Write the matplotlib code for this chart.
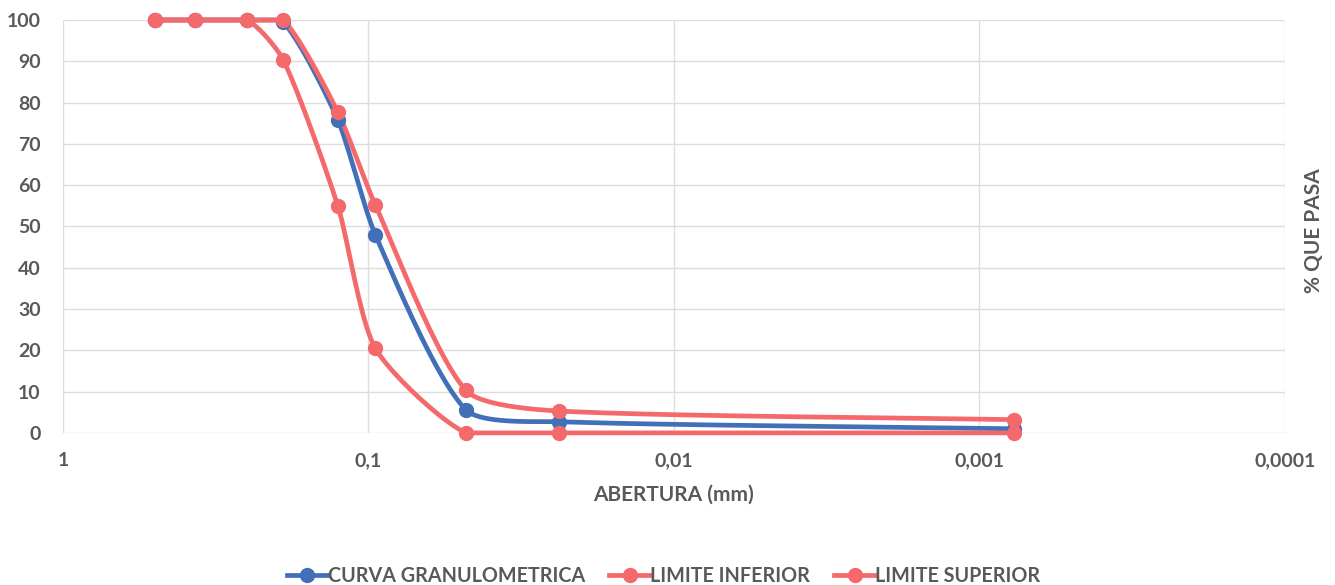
import numpy as np
import matplotlib
matplotlib.use("Agg")
import matplotlib.pyplot as plt
from matplotlib.ticker import FixedLocator, FixedFormatter, NullLocator

# abertura (mm) de cada tamiz
abertura = [0.5, 0.37, 0.25, 0.19, 0.126, 0.095, 0.048, 0.0238, 0.00077]
curva = [100, 100, 100, 99.5, 75.8, 48, 5.6, 2.7, 1.0]
lim_inferior = [100, 100, 100, 90.3, 55, 20.5, 0, 0, 0]
lim_superior = [100, 100, 100, 100, 77.7, 55.2, 10.3, 5.3, 3.2]

x_ticks = [1, 0.1, 0.01, 0.001, 0.0001]
x_labels = ["1", "0,1", "0,01", "0,001", "0,0001"]
y_ticks = list(range(0, 101, 10))

BLUE = "#4170B8"
RED = "#F4696C"
GREY = "#595959"
FONT = "Lato"

# escala aprox. en pixeles (decada en x, unidad en y) para el suavizado
SX, SY = 306.0, 4.13


def smooth(xs, ys, n=40, k=0.22):
    # bezier tipo Excel, tangentes limitadas por la longitud del tramo
    P = np.column_stack([np.log10(xs) * SX, np.asarray(ys, float) * SY])
    m = len(P)
    tang = []
    for i in range(m):
        a = P[max(i - 1, 0)]
        b = P[min(i + 1, m - 1)]
        d = b - a
        tang.append(d / (np.hypot(*d) or 1.0))
    t = np.linspace(0, 1, n)[:, None]
    out = []
    for i in range(m - 1):
        p0, p3 = P[i], P[i + 1]
        L = np.hypot(*(p3 - p0))
        p1 = p0 + tang[i] * L * k
        p2 = p3 - tang[i + 1] * L * k
        c = ((1 - t) ** 3) * p0 + 3 * ((1 - t) ** 2) * t * p1 + 3 * (1 - t) * t ** 2 * p2 + t ** 3 * p3
        out.append(c)
    out = np.vstack(out)
    return 10 ** (out[:, 0] / SX), np.clip(out[:, 1] / SY, 0, 100)


fig = plt.figure(figsize=(13.35, 5.85), dpi=100)
ax = fig.add_axes([0.0472, 0.26, 0.9153, 0.7058])

series = [(curva, BLUE, "CURVA GRANULOMETRICA"),
          (lim_inferior, RED, "LIMITE INFERIOR"),
          (lim_superior, RED, "LIMITE SUPERIOR")]
for ys, col, lab in series:
    sx, sy = smooth(abertura, ys)
    ax.plot(sx, sy, color=col, lw=3.4, solid_capstyle="round", zorder=3, clip_on=False)
    ax.plot(abertura, ys, "o", color=col, ms=10, zorder=4, clip_on=False)
    ax.plot([], [], color=col, lw=3.4, marker="o", ms=10, label=lab)

ax.set_xscale("log")
ax.set_xlim(1, 0.0001)
ax.set_ylim(0, 100)
ax.xaxis.set_major_locator(FixedLocator(x_ticks))
ax.xaxis.set_major_formatter(FixedFormatter(x_labels))
ax.xaxis.set_minor_locator(NullLocator())
ax.set_yticks(y_ticks)

ax.grid(True, color="#DDDDDD", lw=1)
ax.set_axisbelow(True)
for s in ax.spines.values():
    s.set_visible(False)
ax.tick_params(length=0, colors=GREY, labelsize=14)
ax.tick_params(axis="y", pad=16)
ax.tick_params(axis="x", pad=14)
for lbl in ax.get_xticklabels() + ax.get_yticklabels():
    lbl.set_fontweight("bold")
    lbl.set_fontfamily(FONT)

ax.set_xlabel("ABERTURA (mm)", fontsize=15, fontweight="bold", color=GREY,
              family=FONT, labelpad=11)
fig.text(0.984, 0.605, "% QUE PASA", rotation=90, ha="center", va="center",
         fontsize=15, fontweight="bold", color=GREY, family=FONT)

leg = fig.legend(loc="center", bbox_to_anchor=(0.497, 0.016), ncol=3, frameon=False,
                 handlelength=2.1, columnspacing=1.2, handletextpad=0.0,
                 prop={"family": FONT, "weight": "bold", "size": 14.2})
for t in leg.get_texts():
    t.set_color(GREY)

fig.savefig("out.png", dpi=100, facecolor="white")
